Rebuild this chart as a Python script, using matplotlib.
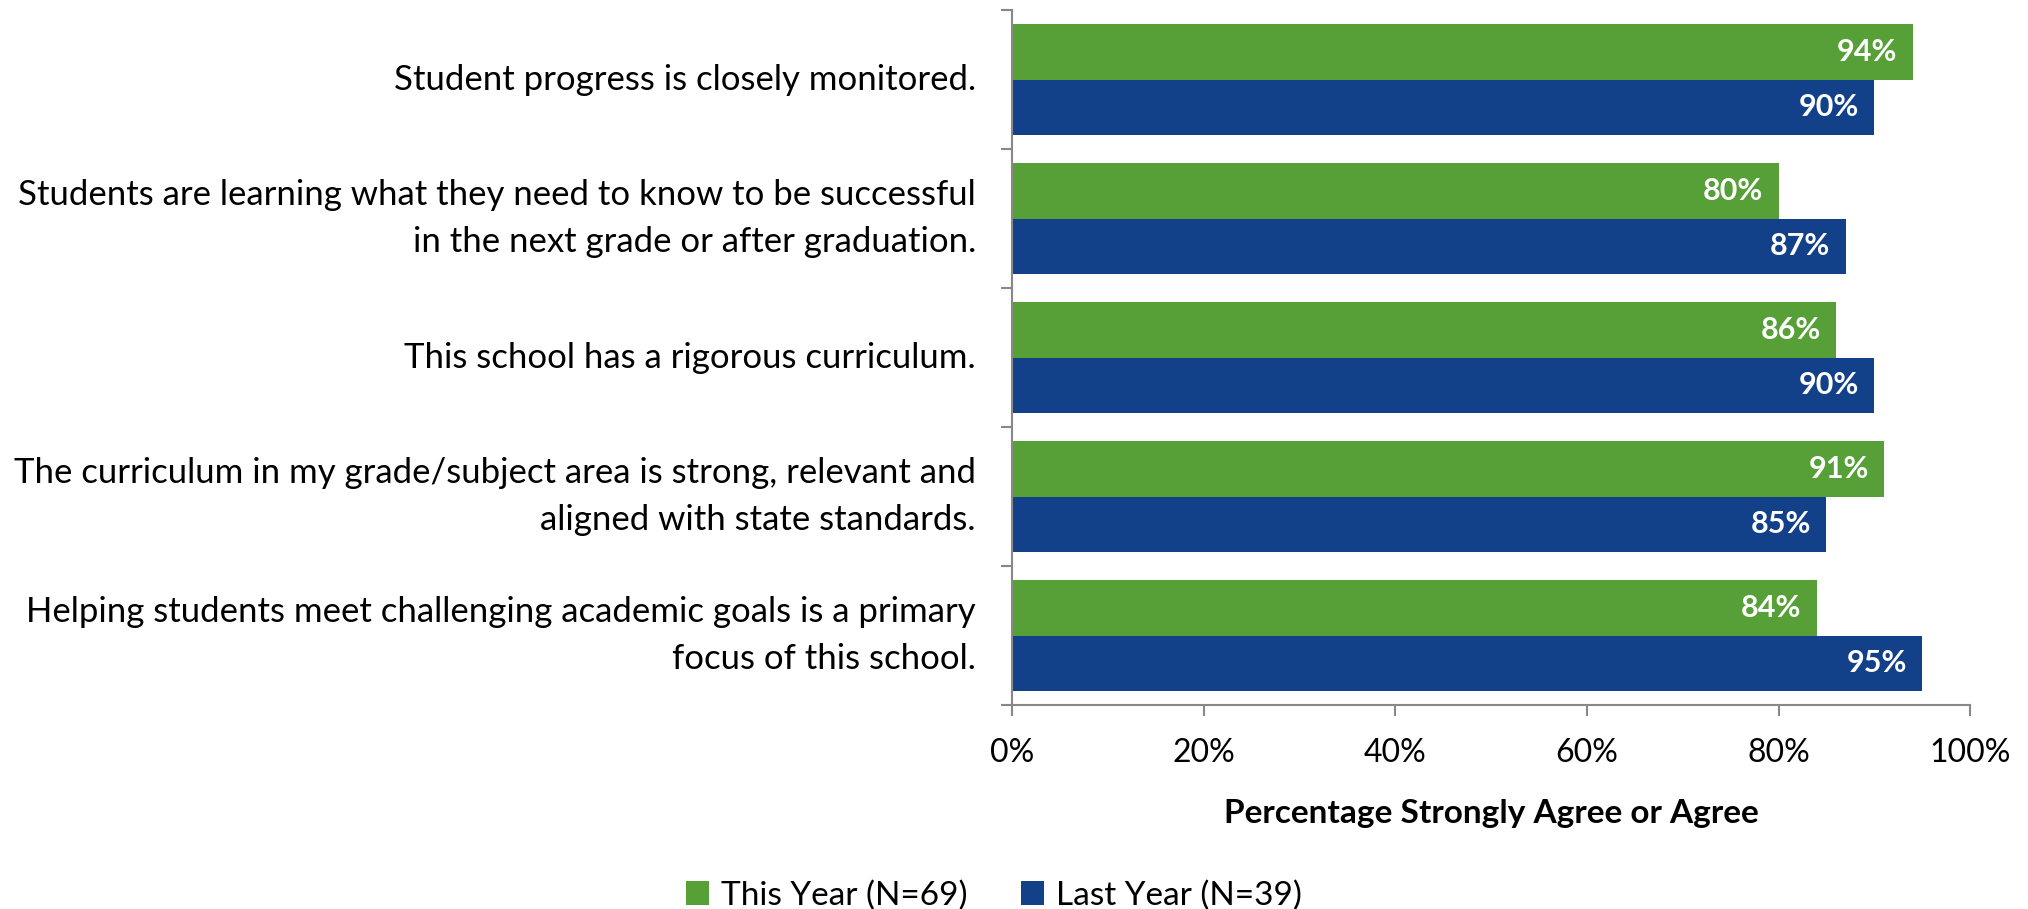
import numpy as np
import matplotlib.pyplot as plt

plt.rcParams['font.family'] = ['Lato', 'DejaVu Sans']

categories = [
    "Student progress is closely monitored.",
    "Students are learning what they need to know to be successful\nin the next grade or after graduation.",
    "This school has a rigorous curriculum.",
    "The curriculum in my grade/subject area is strong, relevant and\naligned with state standards.",
    "Helping students meet challenging academic goals is a primary\nfocus of this school.",
]
this_year = [94, 80, 86, 91, 84]
last_year = [90, 87, 90, 85, 95]
green = '#56A037'
blue = '#12418A'

fig = plt.figure(figsize=(20.28, 9.09), dpi=100)
ax = fig.add_axes([0.499, 0.2244, 0.4725, 0.7646])

y = np.arange(len(categories))
h = 0.4
b1 = ax.barh(y - h/2, this_year, height=h, color=green, label='This Year (N=69)')
b2 = ax.barh(y + h/2, last_year, height=h, color=blue, label='Last Year (N=39)')

# value labels inside bar ends
for bars in (b1, b2):
    for r in bars:
        ax.text(r.get_width() - 1.6, r.get_y() + r.get_height()/2, '%d%%' % r.get_width(),
                ha='right', va='center', color='white', fontsize=22, fontweight='bold')

ax.set_xlim(0, 100)
ax.set_ylim(len(categories) - 0.5, -0.5)
ax.set_xticks(range(0, 101, 20))
ax.set_xticklabels(['%d%%' % v for v in range(0, 101, 20)], fontsize=23)
ax.set_yticks(np.arange(-0.5, len(categories), 1))
ax.set_yticklabels([])
ax.set_yticks(y, minor=True)
ax.set_yticklabels(categories, minor=True, fontsize=25, ha='right', va='center',
                   multialignment='right', linespacing=1.6)
ax.tick_params(axis='y', which='minor', length=0, pad=26)
ax.tick_params(axis='y', which='major', length=8, color='#888888', width=1.5)
ax.tick_params(axis='x', length=8, color='#888888', width=1.5, pad=16)

for s in ['top', 'right']:
    ax.spines[s].set_visible(False)
for s in ['left', 'bottom']:
    ax.spines[s].set_color('#888888')
    ax.spines[s].set_linewidth(1.5)

ax.set_xlabel('Percentage Strongly Agree or Agree', fontsize=24, fontweight='bold', labelpad=22)

fig.legend(loc='lower center', bbox_to_anchor=(0.49, -0.035), ncol=2, frameon=False,
           fontsize=24, handlelength=0.7, handleheight=0.7, columnspacing=1.6, handletextpad=0.35)

fig.savefig('out.png')
